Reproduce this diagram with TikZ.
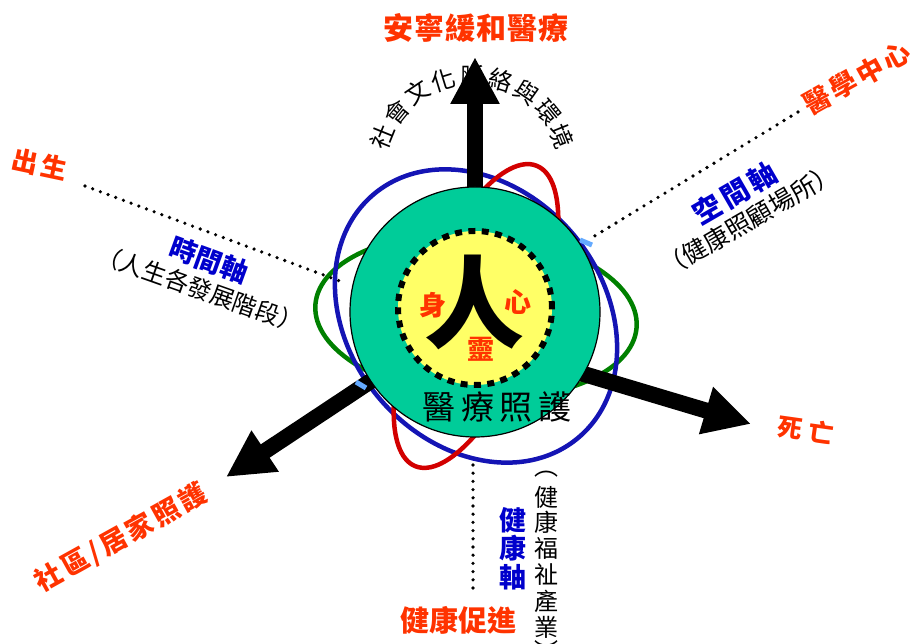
\documentclass[tikz,border=0pt]{standalone}
\usepackage{fontspec}
\newfontfamily\cjk{Noto Sans CJK TC}
\usetikzlibrary{arrows.meta}
\definecolor{lblred}{RGB}{255,51,0}
\definecolor{lblblue}{RGB}{0,0,204}
\definecolor{coregreen}{RGB}{0,204,153}
\definecolor{coreyellow}{RGB}{255,255,102}
\definecolor{ellblue}{RGB}{20,20,180}
\definecolor{ellred}{RGB}{210,0,0}
\definecolor{ellgreen}{RGB}{0,128,0}
\definecolor{ltblue}{RGB}{100,170,255}
\begin{document}
\begin{tikzpicture}[x=1pt,y=1pt,
  redlbl/.style={inner sep=0pt, text=lblred, font=\cjk\bfseries\fontsize{#1}{#1}\selectfont},
  bluelbl/.style={inner sep=0pt, text=lblblue, font=\cjk\bfseries\fontsize{#1}{#1}\selectfont},
  blacklbl/.style={inner sep=0pt, text=black, font=\cjk\fontsize{#1}{#1}\selectfont},
  orbit/.style={line width=4.5pt},
  bigarrow/.style={line width=16pt, -{Triangle[width=46pt,length=47pt]}},
  dotline/.style={line width=3.6pt, line cap=round, dash pattern=on 0pt off 8.2pt},
]
\useasboundingbox (0,0) rectangle (918,644);

% curved text around top arrow
\coordinate (arcC) at (472,471);
\foreach \ch [count=\i from 0] in {社,會,文,化,脈,絡,與,環,境}{
  \pgfmathsetmacro\ang{158-17*\i}
  \node[blacklbl=24, rotate=\ang-90] (arc\i) at ([shift={(\ang:97)}]arcC) {\ch};
}

% orbits
\coordinate (oc) at (476,328);
\draw[orbit, ellgreen, rotate around={-4:(oc)}] (oc) ellipse [x radius=161, y radius=82];
\draw[orbit, ellblue, rotate around={-50:(oc)}] (oc) ellipse [x radius=159, y radius=127];
\draw[orbit, ellred, rotate around={68:(oc)}] (oc) ellipse [x radius=162, y radius=60];

% dotted axes
\coordinate (tL1) at (85,458);  \coordinate (tL2) at (345,361);
\coordinate (sR1) at (593,407); \coordinate (sR2) at (798,532);
\coordinate (hB1) at (473,179); \coordinate (hB2) at (473,49);
\draw[dotline] (tL1) -- (tL2);
\draw[dotline] (sR2) -- (sR1);
\draw[dotline] (hB1) -- (hB2);

% arrows
\coordinate (upS) at (475,332); \coordinate (upT) at (475,587);
\coordinate (rtS) at (480,301); \coordinate (rtT) at (751,220);
\coordinate (ltS) at (475,332); \coordinate (ltT) at (226,167);
\draw[bigarrow] (upS) -- (upT);
\draw[bigarrow] (rtS) -- (rtT);
\draw[bigarrow] (ltS) -- (ltT);

% light blue bits
\coordinate (lb1a) at (580,404); \coordinate (lb1b) at (592,399);
\coordinate (lb2a) at (356,262); \coordinate (lb2b) at (366,256);
\draw[ltblue, line width=5pt] (lb1a) -- (lb1b);
\draw[ltblue, line width=5pt] (lb2a) -- (lb2b);

% core
\node[circle, minimum size=250pt, fill=coregreen, draw=black, line width=1.2pt] (core) at (475,332) {};
\node[circle, minimum size=154pt, fill=coreyellow, draw=black, line width=6pt, dash pattern=on 7pt off 6.4pt] (inner) at (475,336) {};
\node[inner sep=0pt, font=\cjk\bfseries\fontsize{100}{100}\selectfont] (ren) at (474,342) {人};
\node[redlbl=27] (shen) at (433,339) {身};
\node[redlbl=27] (xin) at (518,342) {心};
\node[redlbl=27] (ling) at (481,295) {靈};
\node[blacklbl=33, inner sep=0pt] (care) at (497,237) {醫\,療\,照\,護};

% outer labels
\node[redlbl=30] (top) at (476,616) {\addfontfeature{LetterSpace=4}安寧緩和醫療};
\node[redlbl=26, rotate=-12] (birth) at (40,479) {\addfontfeature{LetterSpace=12}出生};
\node[bluelbl=27, rotate=-20] (timeax) at (209,384) {時間軸};
\node[blacklbl=24, rotate=-19.5] (timesub) at (200,355) {（人生各發展階段）};
\node[redlbl=27, rotate=29] (medc) at (857,566) {\addfontfeature{LetterSpace=12}醫學中心};
\node[bluelbl=28, rotate=30] (spaceax) at (735,451) {\addfontfeature{LetterSpace=14}空間軸};
\node[blacklbl=25, rotate=30] (spacesub) at (749,424) {（健康照顧場所）};
\node[redlbl=25, rotate=-8] (death) at (806,214) {\addfontfeature{LetterSpace=25}死亡};
\node[redlbl=27, rotate=29] (comm) at (121,106) {\addfontfeature{LetterSpace=12}社區/居家照護};
\node[redlbl=29] (promo) at (458,24) {健康促進};

\foreach \ch/\yy [count=\i] in {健/124, 康/96, 軸/67}{
  \node[bluelbl=27] (hax\i) at (513,\yy) {\ch};
}
\foreach \ch/\yy [count=\i] in {︵/170, 健/147, 康/122, 福/96, 祉/70, 產/43, 業/17, ︶/-6}{
  \node[blacklbl=24] (hsub\i) at (546,\yy) {\ch};
}
\end{tikzpicture}
\end{document}
